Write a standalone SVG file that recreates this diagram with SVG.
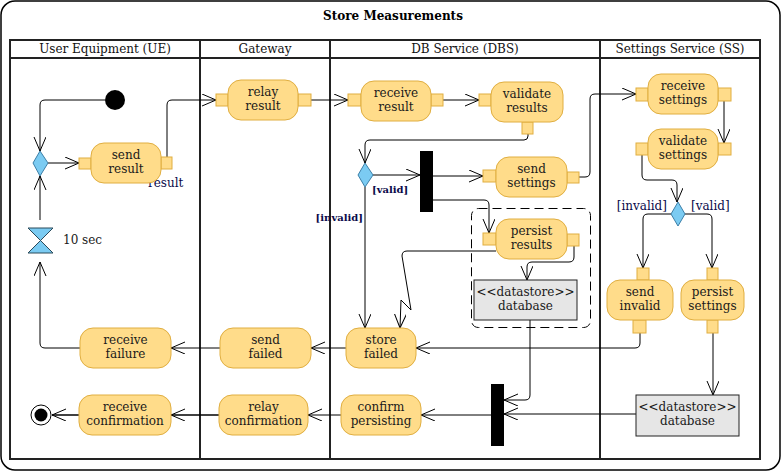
<svg xmlns="http://www.w3.org/2000/svg" width="783" height="473" viewBox="0 0 783 473">
<defs>
<marker id="arr" markerUnits="userSpaceOnUse" markerWidth="16" markerHeight="14" refX="14" refY="6" orient="auto">
<path d="M0,0 L14,6 L0,12" fill="none" stroke="#000" stroke-width="1"/>
</marker>
<style>
text{font-family:"DejaVu Serif","Liberation Serif",serif;fill:#1a1a1a}
.t{font-size:12px;text-anchor:middle}
.lane{font-size:12px;text-anchor:middle;fill:#111}
.act{fill:#FFDC8A;stroke:#E0AE40;stroke-width:1}
.pin{fill:#FFDC8A;stroke:#E0AE40;stroke-width:1}
.dia{fill:#7BCBF2;stroke:#3C7FA8;stroke-width:1}
.ds{fill:#E6E6E6;stroke:#222;stroke-width:1}
.bar{fill:#000}
.e{fill:none;stroke:#000;stroke-width:1;marker-end:url(#arr)}
.g{font-size:10px;font-weight:bold;fill:#0a0a4a}
.gr{font-size:12px;fill:#0a0a4a}
.frame{fill:#fff;stroke:#000;stroke-width:1.5}
.sl{fill:none;stroke:#222;stroke-width:2}
</style>
</defs>
<rect class="frame" x="1" y="1" width="779" height="469" rx="14"/>
<text x="393" y="19.5" style="font-size:12px;font-weight:bold;text-anchor:middle;fill:#000">Store Measurements</text>
<g id="lanes">
<rect class="sl" x="10" y="40" width="750" height="419"/>
<line class="sl" x1="10" y1="58" x2="760" y2="58"/>
<line class="sl" x1="200" y1="40" x2="200" y2="459"/>
<line class="sl" x1="330" y1="40" x2="330" y2="459"/>
<line class="sl" x1="600" y1="40" x2="600" y2="459"/>
<text class="lane" x="105" y="53">User Equipment (UE)</text>
<text class="lane" x="265" y="53">Gateway</text>
<text class="lane" x="465" y="53">DB Service (DBS)</text>
<text class="lane" x="680" y="53">Settings Service (SS)</text>
</g>
<g id="region">
<rect x="471.5" y="208.5" width="119" height="119" rx="7" fill="none" stroke="#000" stroke-dasharray="9,5"/>
</g>
<g id="connectors">
<path class="e" d="M105,100 H45 Q40,100 40,105 V151"/>
<path class="e" d="M48,163 H79"/>
<path class="e" d="M40,220 V176"/>
<path class="e" d="M80,348 H45 Q40,348 40,343 V262"/>
<path class="e" d="M167,157 V105 Q167,100 172,100 H216"/>
<path class="e" d="M311,100 H348"/>
<path class="e" d="M443,100 H479"/>
<path class="e" d="M528,134 V136 Q528,140 524,140 H370 Q365,140 365,145 V163"/>
<path class="e" d="M373,175 H420"/>
<path class="e" d="M433,176 H483"/>
<path class="e" d="M433,200 H484 Q489,200 489,205 V233"/>
<path class="e" d="M365,187 V328"/>
<path class="e" d="M579,177 H585 Q590,177 590,172 V99 Q590,94 595,94 H636"/>
<path class="e" d="M724,101 V143"/>
<path class="e" d="M642,155 V175 Q642,180 647,180 H672 Q677,180 677,185 V202"/>
<path class="e" d="M671,214 H648 Q643,214 643,219 V268"/>
<path class="e" d="M685,214 H707 Q712,214 712,219 V268"/>
<path class="e" d="M640,333 V343 Q640,348 635,348 H416"/>
<path class="e" d="M713,333 V395"/>
<path class="e" d="M574,246 V257 Q574,262 569,262 H532 Q527,262 527,267 V280"/>
<path class="e" d="M530,320 V395 Q530,400 525,400 H504"/>
<path class="e" d="M636,414 H504"/>
<path class="e" d="M491,415 H421"/>
<path class="e" d="M341,415 H308"/>
<path class="e" d="M219,415 H171" style="stroke-width:1.5"/>
<path class="e" d="M79,415 H52" style="stroke-width:1.5"/>
<path class="e" d="M346,348 H311"/>
<path class="e" d="M220,348 H171"/>
<path class="e" d="M496,251 H407 Q402,251 402,256 L411,310 L401,300 L400,328"/>
<text class="g" x="372" y="193">[valid]</text>
<text class="g" x="363" y="221" style="text-anchor:end">[invalid]</text>
<text class="gr" x="667" y="210" style="text-anchor:end">[invalid]</text>
<text class="gr" x="691" y="210">[valid]</text>
<text class="gr" x="148" y="187">result</text>
</g>
<g id="initial"><circle cx="115" cy="100" r="10" fill="#000"/></g>
<g id="final"><circle cx="41" cy="415" r="10" fill="#fff" stroke="#000"/><circle cx="41" cy="415" r="6.5" fill="#000"/></g>
<g id="ue-decision"><polygon class="dia" points="40,151 48,163 40,176 33,163"/></g>
<g id="timer"><path d="M28,228 H53 L28,253 H53 Z" fill="#7BCBF2" stroke="#2a4a5a"/><text x="63" y="244" style="font-size:12px">10 sec</text></g>
<g id="send-result">
<rect class="pin" x="79" y="158" width="12" height="11"/><rect class="pin" x="161" y="157" width="11" height="12"/>
<rect class="act" x="91" y="143" width="70" height="40" rx="13"/>
<text class="t" x="126" y="159">send</text><text class="t" x="126" y="173">result</text>
</g>
<g id="relay-result">
<rect class="pin" x="216" y="94" width="12" height="12"/><rect class="pin" x="298" y="94" width="13" height="12"/>
<rect class="act" x="228" y="80" width="70" height="40" rx="13"/>
<text class="t" x="263" y="96">relay</text><text class="t" x="263" y="110">result</text>
</g>
<g id="receive-result">
<rect class="pin" x="348" y="94" width="13" height="12"/><rect class="pin" x="431" y="94" width="12" height="12"/>
<rect class="act" x="361" y="81" width="70" height="40" rx="13"/>
<text class="t" x="396" y="97">receive</text><text class="t" x="396" y="111">result</text>
</g>
<g id="validate-results">
<rect class="pin" x="479" y="94" width="12" height="12"/><rect class="pin" x="522" y="122" width="11" height="12"/>
<rect class="act" x="491" y="82" width="72" height="40" rx="13"/>
<text class="t" x="527" y="98">validate</text><text class="t" x="527" y="112">results</text>
</g>
<g id="dbs-decision"><polygon class="dia" points="365,163 373,175 365,187 358,175"/></g>
<g id="fork"><rect class="bar" x="420" y="151" width="13" height="61"/></g>
<g id="send-settings">
<rect class="pin" x="483" y="170" width="13" height="12"/><rect class="pin" x="567" y="172" width="12" height="11"/>
<rect class="act" x="496" y="157" width="71" height="40" rx="13"/>
<text class="t" x="531.5" y="173">send</text><text class="t" x="531.5" y="187">settings</text>
</g>
<g id="persist-results">
<rect class="pin" x="483" y="233" width="13" height="12"/><rect class="pin" x="567" y="234" width="12" height="12"/>
<rect class="act" x="496" y="219" width="71" height="40" rx="13"/>
<text class="t" x="531.5" y="235">persist</text><text class="t" x="531.5" y="249">results</text>
</g>
<g id="dbs-datastore">
<rect class="ds" x="474" y="280" width="103" height="40"/>
<text class="t" x="525.5" y="296">&lt;&lt;datastore&gt;&gt;</text><text class="t" x="525.5" y="310">database</text>
</g>
<g id="store-failed">
<rect class="act" x="346" y="328" width="70" height="40" rx="13"/>
<text class="t" x="381" y="344">store</text><text class="t" x="381" y="358">failed</text>
</g>
<g id="send-failed">
<rect class="act" x="220" y="328" width="91" height="40" rx="13"/>
<text class="t" x="265.5" y="344">send</text><text class="t" x="265.5" y="358">failed</text>
</g>
<g id="receive-failure">
<rect class="act" x="80" y="328" width="91" height="40" rx="13"/>
<text class="t" x="125.5" y="344">receive</text><text class="t" x="125.5" y="358">failure</text>
</g>
<g id="join"><rect class="bar" x="491" y="384" width="13" height="62"/></g>
<g id="confirm-persisting">
<rect class="act" x="341" y="395" width="80" height="40" rx="13"/>
<text class="t" x="381" y="411">confirm</text><text class="t" x="381" y="425">persisting</text>
</g>
<g id="relay-confirmation">
<rect class="act" x="219" y="395" width="89" height="40" rx="13"/>
<text class="t" x="263.5" y="411">relay</text><text class="t" x="263.5" y="425">confirmation</text>
</g>
<g id="receive-confirmation">
<rect class="act" x="79" y="395" width="92" height="40" rx="13"/>
<text class="t" x="125" y="411">receive</text><text class="t" x="125" y="425">confirmation</text>
</g>
<g id="receive-settings">
<rect class="pin" x="636" y="88" width="12" height="13"/><rect class="pin" x="718" y="88" width="13" height="13"/>
<rect class="act" x="648" y="74" width="70" height="40" rx="13"/>
<text class="t" x="683" y="90">receive</text><text class="t" x="683" y="104">settings</text>
</g>
<g id="validate-settings">
<rect class="pin" x="636" y="143" width="12" height="12"/><rect class="pin" x="718" y="143" width="13" height="12"/>
<rect class="act" x="648" y="129" width="70" height="40" rx="13"/>
<text class="t" x="683" y="145">validate</text><text class="t" x="683" y="159">settings</text>
</g>
<g id="ss-decision"><polygon class="dia" points="678,202 685,214 678,226 671,214"/></g>
<g id="send-invalid">
<rect class="pin" x="637" y="268" width="12" height="12"/><rect class="pin" x="633" y="320" width="13" height="13"/>
<rect class="act" x="607" y="280" width="66" height="40" rx="13"/>
<text class="t" x="640" y="296">send</text><text class="t" x="640" y="310">invalid</text>
</g>
<g id="persist-settings">
<rect class="pin" x="707" y="268" width="11" height="12"/><rect class="pin" x="707" y="320" width="11" height="13"/>
<rect class="act" x="681" y="280" width="63" height="40" rx="13"/>
<text class="t" x="712.5" y="296">persist</text><text class="t" x="712.5" y="310">settings</text>
</g>
<g id="ss-datastore">
<rect class="ds" x="636" y="395" width="103" height="41"/>
<text class="t" x="687.5" y="411">&lt;&lt;datastore&gt;&gt;</text><text class="t" x="687.5" y="425">database</text>
</g>
</svg>
